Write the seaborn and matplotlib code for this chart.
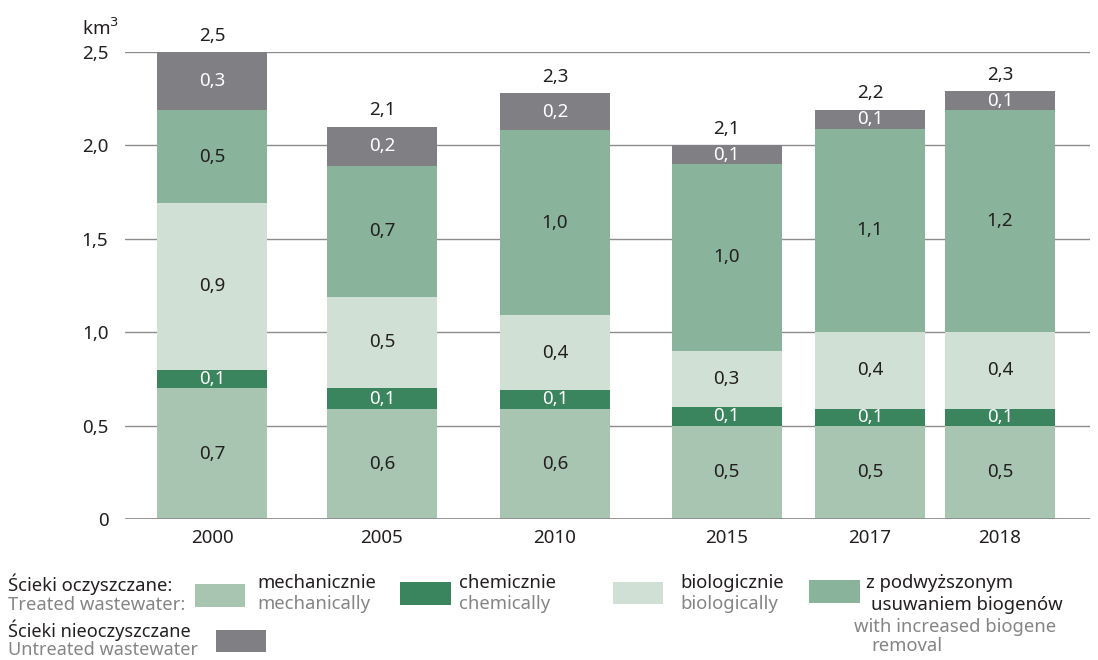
import matplotlib
matplotlib.use("Agg")
import matplotlib.pyplot as plt
import seaborn as sns
import numpy as np
from matplotlib.patches import Rectangle

years = ["2000", "2005", "2010", "2015", "2017", "2018"]
mechanical = [0.70, 0.59, 0.59, 0.50, 0.50, 0.50]
chemical = [0.10, 0.11, 0.10, 0.10, 0.09, 0.09]
biological = [0.89, 0.49, 0.40, 0.30, 0.41, 0.41]
biogene = [0.50, 0.70, 0.99, 1.00, 1.09, 1.19]
untreated = [0.31, 0.21, 0.20, 0.10, 0.10, 0.10]
totals_label = ["2,5", "2,1", "2,3", "2,1", "2,2", "2,3"]
yticks = [0, 0.5, 1.0, 1.5, 2.0, 2.5]
ytick_labels = ["0", "0,5", "1,0", "1,5", "2,0", "2,5"]

# layout (not data)
xpos = [0.0, 0.994, 2.006, 3.01, 3.848, 4.608]
bar_w = 0.643

sns.set_theme(style="white")
plt.rcParams["font.family"] = ["Noto Sans", "DejaVu Sans"]

colors = {
    "mech": "#a8c5b2",
    "chem": "#3a845e",
    "bio": "#d0e0d5",
    "biogen": "#89b39a",
    "untr": "#808084",
}
dark = "#231f20"
grey_txt = "#858585"

fig = plt.figure(figsize=(10.98, 6.6), dpi=100)
ax = fig.add_axes([125 / 1098, 1 - 519 / 660, (1090 - 125) / 1098, (519 - 52) / 660])

layers = [
    (mechanical, colors["mech"], dark),
    (chemical, colors["chem"], "white"),
    (biological, colors["bio"], dark),
    (biogene, colors["biogen"], dark),
    (untreated, colors["untr"], "white"),
]

nfs = 13.5
fs = 13.3

# grid lines behind bars
for yv in yticks[1:]:
    ax.axhline(yv, color="#8c8c8c", lw=1.0, zorder=0)
ax.axhline(0, color="#8c8c8c", lw=2.0, zorder=3)

bottom = np.zeros(len(years))
for vals, col, tcol in layers:
    vals = np.array(vals)
    ax.bar(xpos, vals, width=bar_w, bottom=bottom, color=col, zorder=2, linewidth=0)
    for x, b, v in zip(xpos, bottom, vals):
        ax.text(x, b + v / 2, f"{v:.1f}".replace(".", ","), ha="center", va="center",
                color=tcol, fontsize=nfs, zorder=4)
    bottom = bottom + vals

for x, top, lab in zip(xpos, bottom, totals_label):
    ax.text(x, top + 0.04, lab, ha="center", va="bottom", color=dark, fontsize=nfs, clip_on=False)

ax.set_xlim(-0.509, 5.135)
ax.set_ylim(0, 2.5)
ax.set_yticks(yticks)
ax.set_yticklabels(ytick_labels, fontsize=nfs, color=dark)
ax.set_xticks(xpos)
ax.set_xticklabels(years, fontsize=nfs, color=dark)
ax.tick_params(axis="y", length=0, pad=12)
ax.tick_params(axis="x", length=0, pad=7)
for s in ax.spines.values():
    s.set_visible(False)
ax.grid(False)

fig.text(82 / 1098, 1 - 28 / 660, "km$^3$", fontsize=nfs, color=dark, va="center", ha="left")

# legend
def fx(px):
    return px / 1098

def fy(py):
    return 1 - py / 660

def patch(x0, x1, y0, y1, col):
    fig.patches.append(Rectangle((fx(x0), fy(y1)), fx(x1 - x0), (y1 - y0) / 660,
                                 transform=fig.transFigure, color=col, lw=0))

fig.text(fx(8), fy(584), "Ścieki oczyszczane:", fontsize=fs, color=dark, va="center")
fig.text(fx(8), fy(605), "Treated wastewater:", fontsize=fs, color=grey_txt, va="center")
fig.text(fx(8), fy(630), "Ścieki nieoczyszczane", fontsize=13, color=dark, va="center")
fig.text(fx(8), fy(650), "Untreated wastewater", fontsize=13, color=grey_txt, va="center")

patch(195, 245, 584, 607, colors["mech"])
fig.text(fx(257), fy(583), "mechanicznie", fontsize=fs, color=dark, va="center")
fig.text(fx(257), fy(604), "mechanically", fontsize=fs, color=grey_txt, va="center")

patch(400, 451, 582, 605, colors["chem"])
fig.text(fx(459), fy(583), "chemicznie", fontsize=fs, color=dark, va="center")
fig.text(fx(459), fy(604), "chemically", fontsize=fs, color=grey_txt, va="center")

patch(613, 663, 582, 604, colors["bio"])
fig.text(fx(680), fy(583), "biologicznie", fontsize=fs, color=dark, va="center")
fig.text(fx(680), fy(604), "biologically", fontsize=fs, color=grey_txt, va="center")

patch(809, 860, 580, 603, colors["biogen"])
fig.text(fx(866), fy(583), "z podwyższonym", fontsize=fs, color=dark, va="center")
fig.text(fx(871), fy(605), "usuwaniem biogenów", fontsize=fs, color=dark, va="center")
fig.text(fx(854), fy(627), "with increased biogene", fontsize=fs, color=grey_txt, va="center")
fig.text(fx(871), fy(646), "removal", fontsize=fs, color=grey_txt, va="center")

patch(216, 266, 630, 652, colors["untr"])

fig.savefig("out.png", dpi=100)
